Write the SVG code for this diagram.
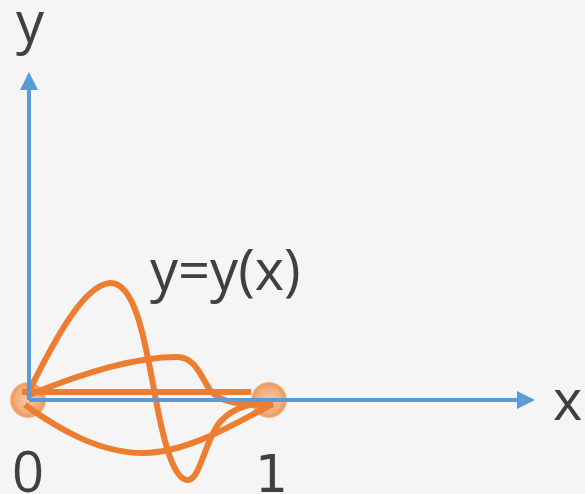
<svg xmlns="http://www.w3.org/2000/svg" width="585" height="494" viewBox="0 0 585 494">
<defs>
<style>
.t{font-family:"Open Sans","Liberation Sans",sans-serif;font-size:56px;fill:#404040}
.axis{stroke:#5B9BD5;stroke-width:4;fill:none}
.curve{stroke:#ED7D31;stroke-width:6;fill:none}
</style>
<radialGradient id="ball" cx="50%" cy="50%" r="50%">
<stop offset="0" stop-color="#F8C8A4"/>
<stop offset="0.7" stop-color="#F3AD7C"/>
<stop offset="0.9" stop-color="#EE9A5E"/>
<stop offset="1" stop-color="#EE9A5E" stop-opacity="0.6"/>
</radialGradient>
<marker id="arr" markerWidth="4.5" markerHeight="4.5" refX="0" refY="2" orient="auto" markerUnits="strokeWidth" viewBox="0 0 4 4">
<path d="M0,0 L4,2 L0,4 Z" fill="#5B9BD5"/>
</marker>
</defs>
<rect width="585" height="494" fill="#F5F5F5"/>
<g id="point0"><circle cx="28" cy="400" r="18" fill="url(#ball)"/></g>
<g id="point1"><circle cx="269" cy="400" r="18" fill="url(#ball)"/></g>
<g id="curves">
<path class="curve" d="M22,392 H251"/>
<path class="curve" d="M27,395 C45,360 80,285 110,283 C135,282 145,340 155,395 C165,450 175,480 188,480 C200,480 205,440 220,422 C235,405 255,403 273,403"/>
<path class="curve" d="M27,396 C70,378 130,357 177,357 C195,357 200,375 210,390 C220,403 240,405 273,405"/>
<path class="curve" d="M25,405 C60,430 100,453 143,453 C190,453 240,420 273,404"/>
</g>
<g id="connectors">
<path class="axis" d="M29,400 V90" marker-end="url(#arr)"/>
<path class="axis" d="M29,400 H517" marker-end="url(#arr)"/>
</g>
<g id="labels">
<text class="t" x="16" y="42">y</text>
<text class="t" x="553" y="420">x</text>
<text class="t" x="150" y="290">y=y(x)</text>
<text class="t" x="12" y="492">0</text>
<text class="t" x="255" y="492" style="font-family:'DejaVu Sans',sans-serif;font-size:52px">1</text>
</g>
</svg>
